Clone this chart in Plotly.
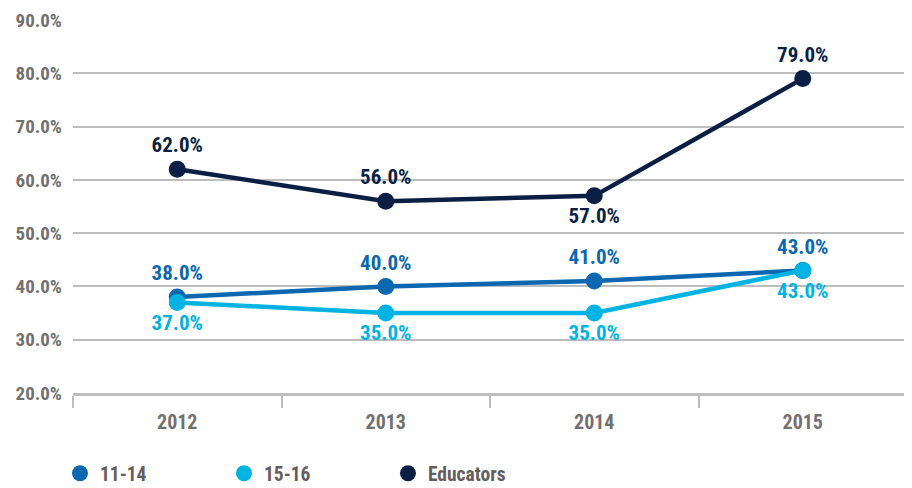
import plotly.graph_objects as go

years = ["2012", "2013", "2014", "2015"]
series_names = ["11-14", "15-16", "Educators"]
v_11_14 = [38.0, 40.0, 41.0, 43.0]
v_15_16 = [37.0, 35.0, 35.0, 43.0]
v_educators = [62.0, 56.0, 57.0, 79.0]
y_ticks = [20, 30, 40, 50, 60, 70, 80, 90]

colors = ["#0a67b0", "#00b3e3", "#0b1f45"]
positions = [
    ["top center"] * 4,
    ["bottom center"] * 4,
    ["top center", "top center", "bottom center", "top center"],
]

FONT = "Liberation Sans Narrow, Arial Narrow, Roboto Condensed, Liberation Sans, sans-serif"

fig = go.Figure()
for name, vals, col, pos in zip(series_names, [v_11_14, v_15_16, v_educators], colors, positions):
    fig.add_trace(go.Scatter(
        x=years, y=vals, name=name, mode="lines+markers+text",
        line=dict(color=col, width=4.5),
        marker=dict(color=col, size=17),
        text=[f"{v:.1f}%" for v in vals],
        textposition=pos,
        textfont=dict(family=FONT, size=21, color=col, weight="bold"),
        cliponaxis=False, showlegend=False,
    ))
# legend entries (circle only)
for name, col in zip(series_names, colors):
    fig.add_trace(go.Scatter(
        x=[None], y=[None], name=name, mode="markers",
        marker=dict(color=col, size=17), showlegend=True,
    ))

fig.update_layout(
    width=904, height=480,
    margin=dict(l=65, r=5, t=12, b=95),
    plot_bgcolor="white", paper_bgcolor="white",
    font=dict(family=FONT, size=16, color="#737070", weight="bold"),
    showlegend=True,
    legend=dict(
        orientation="h", xref="container", yref="container",
        x=0.0575, xanchor="left", y=0.03, yanchor="middle",
        entrywidth=119, itemsizing="trace",
        font=dict(family=FONT, size=19.5, color="#655d5e", weight="bold"),
        traceorder="normal",
    ),
    xaxis=dict(
        type="category", range=[-0.5, 3.5], showgrid=False, showline=True,
        linecolor="#bdbdbd", linewidth=2.5, automargin=False,
        ticks="outside", tickson="boundaries", ticklen=12, tickwidth=2, tickcolor="#bdbdbd",
        tickfont=dict(family=FONT, size=20, color="#737070", weight="bold"),
        ticklabelstandoff=9,
    ),
    yaxis=dict(
        range=[20, 90], tickvals=y_ticks, ticktext=[f"{v:.1f}%" for v in y_ticks],
        showgrid=True, gridcolor="#bdbdbd", gridwidth=2, zeroline=False, showline=False,
        automargin=False,
        tickfont=dict(family=FONT, size=19, color="#737070", weight="bold"),
        ticks="", ticklabelstandoff=10,
    ),
)

fig.write_html("out.html")
